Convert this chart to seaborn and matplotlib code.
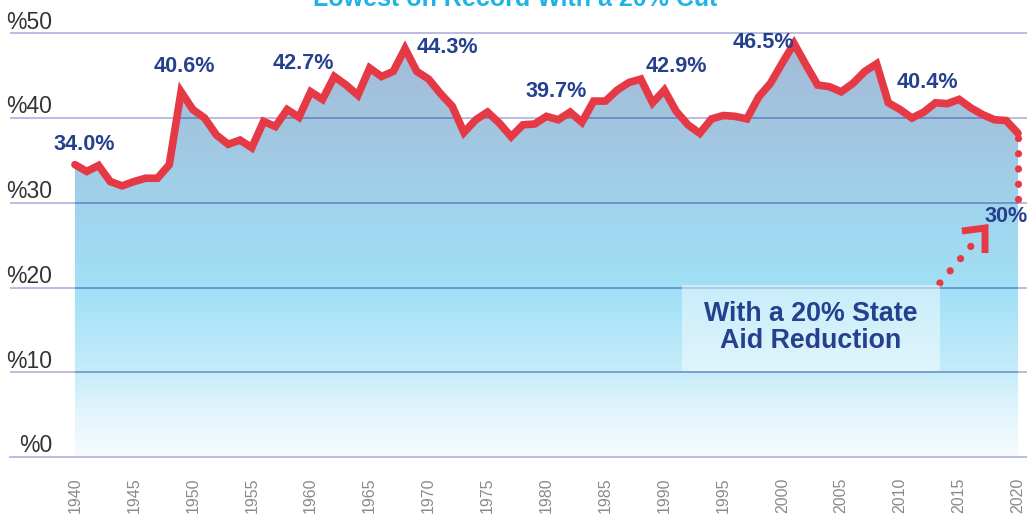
import numpy as np
import pandas as pd
import matplotlib
matplotlib.use('Agg')
import matplotlib.pyplot as plt
import seaborn as sns
from matplotlib import font_manager
from matplotlib.colors import LinearSegmentedColormap
from matplotlib.patches import Rectangle
from matplotlib.transforms import blended_transform_factory

# ---- data ----
years = list(range(1940, 2021))
state_share = [34.5, 33.7, 34.4, 32.5, 32.0, 32.5, 32.9, 32.9, 34.5, 43.1,
               41.0, 40.0, 38.0, 36.9, 37.4, 36.5, 39.6, 39.0, 41.0, 40.1,
               43.1, 42.2, 44.9, 43.9, 42.7, 45.9, 44.9, 45.5, 48.2, 45.5,
               44.6, 42.9, 41.4, 38.3, 39.8, 40.7, 39.4, 37.8, 39.2, 39.3,
               40.2, 39.8, 40.7, 39.5, 42.0, 42.0, 43.3, 44.2, 44.6, 41.8,
               43.3, 40.8, 39.2, 38.2, 39.9, 40.3, 40.2, 39.9, 42.5, 44.1,
               46.5, 48.8, 46.3, 43.9, 43.7, 43.1, 44.1, 45.5, 46.4, 41.8,
               41.0, 40.0, 40.7, 41.8, 41.7, 42.2, 41.2, 40.4, 39.8, 39.7,
               38.2]
projected_share = 30
callout_labels = ['34.0%', '40.6%', '42.7%', '44.3%', '39.7%', '42.9%', '46.5%', '40.4%']
y_ticks = [0, 10, 20, 30, 40, 50]
x_ticks = list(range(1940, 2021, 5))
title = 'Lowest on Record With a 20% Cut'
box_text = 'With a 20% State\nAid Reduction'

df = pd.DataFrame({'year': years, 'share': state_share})

# ---- layout ----
callout_pos = [(1940.77, 36.2), (1949.25, 45.4), (1959.34, 45.8), (1971.56, 47.7),
               (1980.8, 42.5), (1990.98, 45.4), (1998.44, 48.3), (2012.35, 43.5)]
xlo, xhi = 1934.49, 2020.76
ytop = 53.93

RED = '#e63946'
NAVY = '#24408e'

sns.set_theme(style='white')
names = {f.name for f in font_manager.fontManager.ttflist}
if 'Liberation Sans Narrow' in names:
    cond, k = 'Liberation Sans Narrow', 1.0
else:
    cond, k = 'Liberation Sans', 0.82
plt.rcParams['font.family'] = ['Liberation Sans', 'DejaVu Sans']

fig = plt.figure(figsize=(10.27, 5.19), dpi=100)
ax = fig.add_axes([10 / 1027, 62 / 519, 1017 / 1027, 457 / 519])

# gridlines outside the fill
for v in y_ticks[1:]:
    ax.axhline(v, color='#bcbce4', lw=1.4, zorder=1)

# gradient fill under the line
fill = ax.fill_between(df['year'], df['share'], 0, facecolor='none', edgecolor='none')
clip = fill.get_paths()[0]
cmap = LinearSegmentedColormap.from_list('fill', [
    (0.0, '#f6fbfe'), (0.1, '#e3f5fc'), (0.2, '#c6ecfa'), (0.38, '#a2e1f6'),
    (0.55, '#a0d6ef'), (0.75, '#a2c7e1'), (1.0, '#a4b9d6')])
grad = np.linspace(0, 1, 256).reshape(-1, 1)
im = ax.imshow(grad, extent=[xlo, xhi, 0, 50], origin='lower', aspect='auto',
               cmap=cmap, zorder=2)
im.set_clip_path(clip, transform=ax.transData)

# gridlines inside the fill (darker)
for v in y_ticks[1:]:
    ln = ax.axhline(v, color='#4a6cb8', lw=1.4, alpha=0.6, zorder=3)
    ln.set_clip_path(clip, transform=ax.transData)

sns.lineplot(data=df, x='year', y='share', color=RED, lw=5.5, ax=ax, zorder=4)
ax.lines[-1].set_solid_joinstyle('miter')

# projected drop
ax.plot([years[-1], years[-1]], [state_share[-1] - 0.6, projected_share + 0.3],
        color=RED, lw=5.2, ls=(0, (0.01, 2.1)), dash_capstyle='round', zorder=4,
        clip_on=False)

# dotted arrow toward the 30% label
ax.plot([2013.37, 2016.17], [20.53, 25.14], color=RED, lw=5.2,
        ls=(0, (0.01, 2.2)), dash_capstyle='round', zorder=4)
ax.plot([2015.24, 2017.2, 2017.2], [26.67, 27.02, 24.07], color=RED, lw=5,
        solid_joinstyle='miter', solid_capstyle='butt', zorder=4)

# annotation box
ax.add_patch(Rectangle((1991.49, 10.15), 21.88, 10.15, facecolor='white',
                       alpha=0.45, edgecolor='none', zorder=5))
ax.text(2002.43, 15.3, box_text, ha='center', va='center', multialignment='center',
        linespacing=1.05, fontsize=23.5 * k, color=NAVY, fontweight='bold',
        family=cond, zorder=6)

for lab, (x, y) in zip(callout_labels, callout_pos):
    ax.text(x, y, lab, ha='center', va='baseline', fontsize=19 * k, color=NAVY,
            fontweight='bold', family=cond, zorder=6)
ax.text(2017.19, 27.7, f'{projected_share}%', ha='left', va='baseline',
        fontsize=19 * k, color=NAVY, fontweight='bold', family=cond, zorder=6,
        clip_on=False)

# y labels sit above their gridlines
tr = blended_transform_factory(ax.transAxes, ax.transData)
for v in y_ticks:
    ax.text(0.0413, v + 0.55, f'%{v}', transform=tr, ha='right', va='baseline',
            fontsize=16.5, color='#333333')

ax.set_xlim(xlo, xhi)
ax.set_ylim(0, ytop)
ax.set_yticks([])
ax.set_xticks(x_ticks)
ax.set_xticklabels([str(t) for t in x_ticks])
ax.tick_params(axis='x', direction='inout', length=16, width=1.2, color='#bcbce4',
               pad=7, labelrotation=90, labelsize=11.5, labelcolor='#8a8a8a')
ax.set_xlabel('')
ax.set_ylabel('')
for s in ['top', 'left', 'right']:
    ax.spines[s].set_visible(False)
ax.spines['bottom'].set_color('#bcbce4')
ax.spines['bottom'].set_linewidth(1.4)
ax.spines['bottom'].set_zorder(3)

fig.text(515 / 1027, 1 - 6 / 519, title, ha='center', va='baseline',
         color='#1fb2e6', fontweight='bold', fontsize=22 * k, family=cond)

fig.savefig('out.png', dpi=100)
